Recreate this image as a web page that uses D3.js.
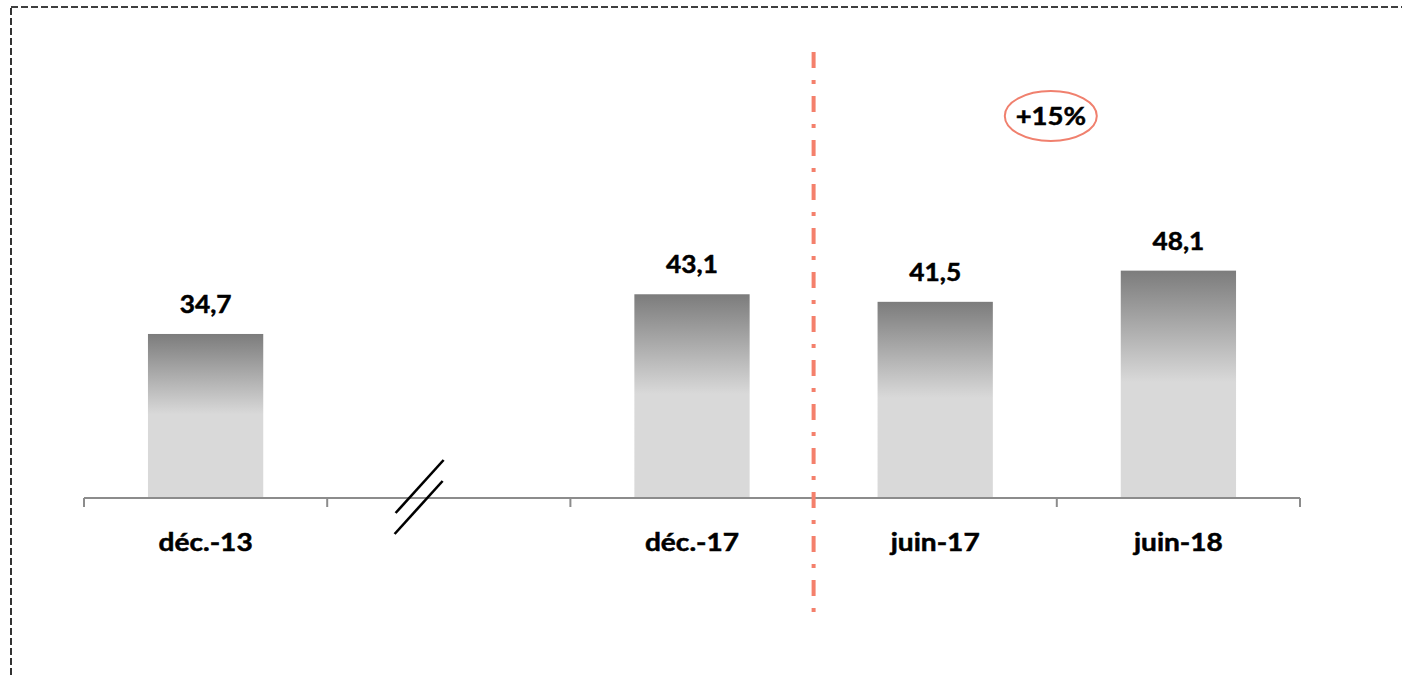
<!DOCTYPE html>
<html>
<head>
<meta charset="utf-8">
<script src="https://cdn.jsdelivr.net/npm/d3@7/dist/d3.min.js"></script>
<style>
  html, body { margin: 0; padding: 0; background: #fff; }
  svg { display: block; }
  text { font-family: Lato, "Open Sans", sans-serif; font-weight: 700; fill: #000; stroke: #000; stroke-width: 0.5; }
</style>
</head>
<body>
<svg id="chart" width="1402" height="677"></svg>
<script>
// Periods shown on the axis (the empty slot marks the gap between 2013 and 2017)
const periodKeys = ["d13", "gap", "d17", "j17", "j18"];
const periodLabels = ["déc.-13", "", "déc.-17", "juin-17", "juin-18"];
const periodValues = [34.7, null, 43.1, 41.5, 48.1];
const growthLabel = "+15%";

const fmt = v => d3.format(".1f")(v).replace(".", ",");

const svg = d3.select("#chart");
const W = 1402, H = 677;

// dashed frame around the chart
svg.append("rect")
  .attr("x", 11).attr("y", 7)
  .attr("width", W + 20).attr("height", H + 20)
  .attr("fill", "none")
  .attr("stroke", "#000")
  .attr("stroke-width", 1.6)
  .attr("stroke-dasharray", "7 3");

const axisLeft = 84, axisRight = 1300, baseY = 498;

const x = d3.scaleBand()
  .domain(periodKeys)
  .range([axisLeft, axisRight])
  .paddingInner(0.526)
  .paddingOuter(0.263);

const y = d3.scaleLinear()
  .domain([0, 60])
  .range([baseY, baseY - 60 * 4.727]);

// vertical gradient used by every bar
const grad = svg.append("defs").append("linearGradient")
  .attr("id", "barGrad")
  .attr("x1", 0).attr("y1", 0).attr("x2", 0).attr("y2", 1);
grad.append("stop").attr("offset", 0).attr("stop-color", "#7c7c7c");
grad.append("stop").attr("offset", 0.49).attr("stop-color", "#d9d9d9");
grad.append("stop").attr("offset", 1).attr("stop-color", "#d9d9d9");

const data = periodKeys.map((k, i) => ({ key: k, label: periodLabels[i], value: periodValues[i] }));
const bars = data.filter(d => d.value != null);

svg.append("g").selectAll("rect")
  .data(bars)
  .join("rect")
  .attr("x", d => x(d.key))
  .attr("width", x.bandwidth())
  .attr("y", d => y(d.value))
  .attr("height", d => y(0) - y(d.value))
  .attr("fill", "url(#barGrad)");

// value labels above the bars
svg.append("g").selectAll("text")
  .data(bars)
  .join("text")
  .attr("transform", d => `translate(${x(d.key) + x.bandwidth() / 2},${y(d.value) - 21}) scale(1.05,1)`)
  .attr("text-anchor", "middle")
  .attr("font-size", 25)
  .text(d => fmt(d.value));

// category axis: baseline plus ticks on the band boundaries
const axis = svg.append("g");
axis.append("line")
  .attr("x1", axisLeft).attr("x2", axisRight)
  .attr("y1", baseY).attr("y2", baseY)
  .attr("stroke", "#8c8c8c").attr("stroke-width", 2);
const boundaries = d3.range(periodKeys.length + 1).map(i => axisLeft + i * x.step());
axis.selectAll("line.tick")
  .data(boundaries)
  .join("line")
  .attr("class", "tick")
  .attr("x1", d => d).attr("x2", d => d)
  .attr("y1", baseY).attr("y2", baseY + 9)
  .attr("stroke", "#8c8c8c").attr("stroke-width", 2);

axis.selectAll("text")
  .data(data.filter(d => d.label))
  .join("text")
  .attr("transform", d => `translate(${x(d.key) + x.bandwidth() / 2},${baseY + 53}) scale(1.17,1)`)
  .attr("text-anchor", "middle")
  .attr("font-size", 24)
  .text(d => d.label);

// axis break between 2013 and 2017
const brk = svg.append("g").attr("stroke", "#000").attr("stroke-width", 2.6);
const bx = boundaries[1] + x.step() * 0.38;
brk.append("line").attr("x1", bx - 24).attr("y1", 513).attr("x2", bx + 24).attr("y2", 460);
brk.append("line").attr("x1", bx - 25).attr("y1", 534).attr("x2", bx + 23).attr("y2", 481);

// separator between annual and half-year figures
const sepX = boundaries[3];
svg.append("line")
  .attr("x1", sepX).attr("x2", sepX)
  .attr("y1", 52).attr("y2", 614)
  .attr("stroke", "#f4806c")
  .attr("stroke-width", 4)
  .attr("stroke-dasharray", "16 12 4 12");

// growth callout between juin-17 and juin-18
const cx = (x("j17") + x("j18") + x.bandwidth()) / 2 - 6;
const cy = 116;
svg.append("ellipse")
  .attr("cx", cx).attr("cy", cy)
  .attr("rx", 46).attr("ry", 25)
  .attr("fill", "none")
  .attr("stroke", "#f0806e")
  .attr("stroke-width", 2);
svg.append("text")
  .attr("transform", `translate(${cx},${cy + 9}) scale(1.1,1)`)
  .attr("text-anchor", "middle")
  .attr("font-size", 25)
  .text(growthLabel);
</script>
</body>
</html>
